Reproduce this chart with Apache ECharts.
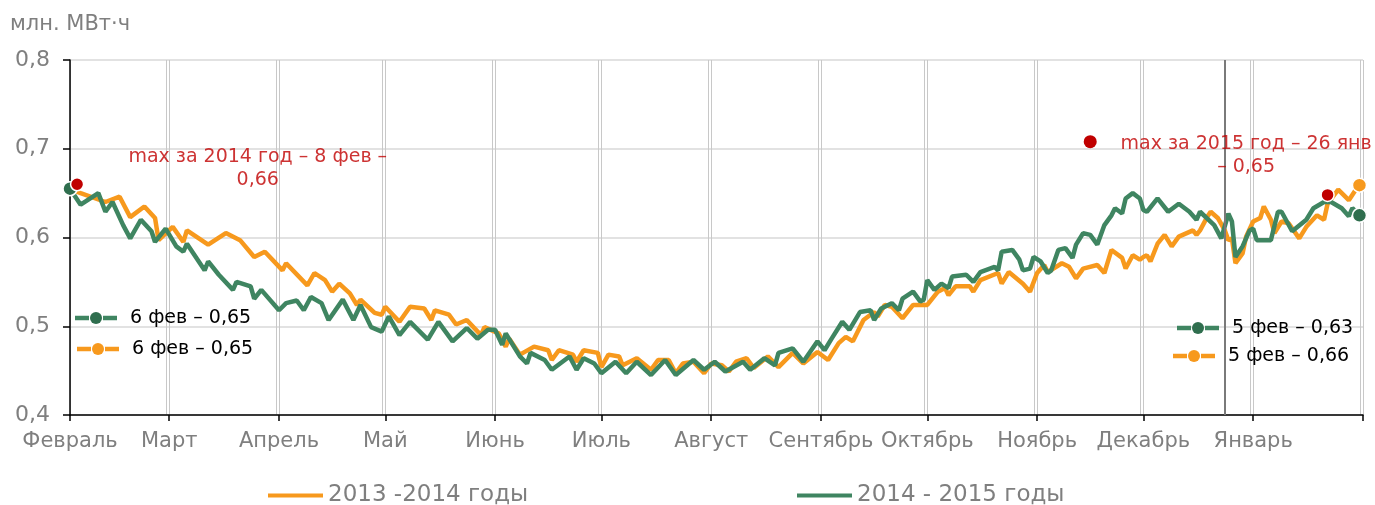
<!DOCTYPE html>
<html>
<head>
<meta charset="utf-8">
<script src="https://cdn.jsdelivr.net/npm/echarts@6/dist/echarts.min.js"></script>
<style>
    html, body { margin: 0; padding: 0; background: #fff; }
    #chart { width: 1375px; height: 505px; }
</style>
</head>
<body>
<div id="chart"></div>
<script>
const monthNames = ['Январь', 'Февраль', 'Март', 'Апрель', 'Май', 'Июнь', 'Июль', 'Август', 'Сентябрь', 'Октябрь', 'Ноябрь', 'Декабрь'];
const seriesNames = ['2013 -2014 годы', '2014 - 2015 годы'];

// дни от начала периода и значения, млн. МВт·ч
const days1314 = [0, 3, 10, 14, 17, 21, 24, 25, 29, 32, 33, 39, 44, 48, 52, 55, 60, 61, 67, 69, 72, 74, 76, 79, 81, 82, 86, 88, 89, 93, 96, 100, 102, 103, 107, 109, 112, 116, 117, 121, 123, 124, 127, 131, 135, 136, 138, 142, 143, 145, 149, 150, 152, 155, 156, 160, 164, 166, 169, 171, 173, 176, 179, 181, 184, 186, 188, 191, 193, 197, 200, 204, 207, 211, 214, 217, 219, 221, 224, 227, 228, 230, 232, 235, 238, 242, 245, 247, 248, 250, 254, 255, 257, 262, 263, 265, 269, 271, 273, 275, 276, 280, 282, 284, 286, 290, 292, 294, 297, 298, 300, 302, 303, 304, 305, 307, 309, 311, 313, 317, 318, 319, 321, 322, 324, 326, 327, 328, 329, 331, 332, 334, 336, 337, 339, 340, 342, 344, 347, 349, 352, 354, 355, 358, 360, 361, 363, 364];
const vals1314 = [0.655, 0.650, 0.640, 0.646, 0.623, 0.635, 0.622, 0.597, 0.612, 0.595, 0.608, 0.592, 0.605, 0.597, 0.578, 0.584, 0.563, 0.571, 0.546, 0.560, 0.552, 0.539, 0.548, 0.537, 0.524, 0.530, 0.515, 0.513, 0.522, 0.505, 0.522, 0.520, 0.507, 0.518, 0.513, 0.502, 0.507, 0.490, 0.499, 0.492, 0.477, 0.486, 0.468, 0.477, 0.473, 0.462, 0.473, 0.468, 0.460, 0.473, 0.470, 0.454, 0.468, 0.466, 0.456, 0.464, 0.451, 0.462, 0.462, 0.447, 0.458, 0.460, 0.447, 0.458, 0.456, 0.449, 0.460, 0.464, 0.453, 0.466, 0.454, 0.470, 0.458, 0.471, 0.462, 0.481, 0.488, 0.483, 0.507, 0.516, 0.511, 0.524, 0.522, 0.509, 0.524, 0.524, 0.539, 0.543, 0.535, 0.545, 0.545, 0.539, 0.552, 0.560, 0.548, 0.561, 0.548, 0.539, 0.560, 0.569, 0.561, 0.571, 0.567, 0.554, 0.565, 0.569, 0.560, 0.586, 0.577, 0.565, 0.580, 0.575, 0.578, 0.580, 0.573, 0.593, 0.603, 0.590, 0.601, 0.608, 0.603, 0.608, 0.623, 0.629, 0.622, 0.608, 0.597, 0.599, 0.571, 0.582, 0.601, 0.618, 0.622, 0.635, 0.620, 0.605, 0.618, 0.616, 0.599, 0.612, 0.625, 0.620, 0.638, 0.654, 0.646, 0.642, 0.654, 0.659];

const days1415 = [0, 3, 8, 10, 12, 15, 17, 20, 23, 24, 27, 30, 32, 33, 38, 39, 42, 46, 47, 51, 52, 54, 59, 61, 64, 66, 68, 71, 73, 77, 80, 82, 85, 88, 90, 93, 96, 101, 104, 108, 112, 115, 118, 120, 122, 123, 127, 129, 130, 134, 136, 141, 143, 145, 148, 150, 154, 157, 160, 164, 168, 171, 176, 179, 182, 185, 190, 192, 196, 199, 200, 204, 207, 211, 213, 215, 218, 220, 223, 226, 227, 229, 232, 234, 235, 238, 240, 241, 242, 244, 246, 248, 249, 253, 255, 257, 261, 262, 263, 266, 268, 269, 271, 272, 274, 276, 277, 279, 281, 283, 284, 286, 288, 290, 292, 294, 295, 297, 298, 300, 302, 303, 304, 307, 310, 313, 316, 318, 319, 323, 325, 327, 328, 329, 331, 333, 334, 335, 339, 341, 342, 345, 349, 351, 354, 356, 359, 361, 362, 364];
const vals1415 = [0.655, 0.637, 0.650, 0.629, 0.640, 0.614, 0.599, 0.620, 0.607, 0.595, 0.610, 0.590, 0.584, 0.593, 0.563, 0.573, 0.558, 0.541, 0.550, 0.545, 0.531, 0.541, 0.518, 0.526, 0.529, 0.518, 0.533, 0.526, 0.507, 0.530, 0.507, 0.524, 0.499, 0.494, 0.511, 0.490, 0.505, 0.485, 0.505, 0.483, 0.498, 0.486, 0.496, 0.496, 0.479, 0.492, 0.466, 0.458, 0.470, 0.462, 0.451, 0.466, 0.451, 0.464, 0.458, 0.447, 0.460, 0.447, 0.460, 0.445, 0.462, 0.445, 0.462, 0.451, 0.460, 0.449, 0.460, 0.451, 0.464, 0.456, 0.470, 0.475, 0.460, 0.483, 0.473, 0.486, 0.505, 0.496, 0.516, 0.518, 0.507, 0.520, 0.526, 0.518, 0.531, 0.539, 0.528, 0.530, 0.552, 0.541, 0.548, 0.543, 0.556, 0.558, 0.550, 0.561, 0.567, 0.563, 0.584, 0.586, 0.575, 0.563, 0.565, 0.578, 0.573, 0.560, 0.563, 0.586, 0.588, 0.577, 0.592, 0.605, 0.603, 0.592, 0.614, 0.625, 0.633, 0.627, 0.644, 0.650, 0.644, 0.631, 0.629, 0.644, 0.629, 0.638, 0.629, 0.620, 0.629, 0.614, 0.599, 0.627, 0.618, 0.578, 0.590, 0.608, 0.610, 0.597, 0.597, 0.629, 0.629, 0.607, 0.620, 0.633, 0.640, 0.640, 0.633, 0.624, 0.633, 0.625];

// максимумы (красные точки)
const maxDays = [2, 355];
const maxVals = [0.66, 0.648];

// подписи
const noteTexts = ['max за 2014 год – 8 фев –\n0,66', 'max за 2015 год – 26 янв\n– 0,65'];
const noteDays = [53, 332];
const noteVals = [0.678, 0.692];
const noteKeyDay = 288;
const noteKeyVal = 0.708;
const keyTexts = ['6 фев – 0,65', '6 фев – 0,65', '5 фев – 0,63', '5 фев – 0,66'];
const markDay = 326;

const DAY = 86400000;
const start = new Date(2014, 1, 1).getTime();
const end = new Date(2015, 1, 1).getTime();
const t = d => start + d * DAY;

const orange = '#f7991d';
const green = '#3f8561';
const greenDot = '#2f6e4e';
const red = '#c00000';
const gray = '#7f7f7f';
const font = "'DejaVu Sans', Verdana, sans-serif";

// ключ подписи: штрих – точка – штрих и текст
function key(x, y, lineColor, dotColor, text) {
    return {
        type: 'group',
        children: [
            { type: 'line', z: 100, shape: { x1: x, y1: y, x2: x + 14, y2: y }, style: { stroke: lineColor, lineWidth: 4.5 } },
            { type: 'circle', z: 101, shape: { cx: x + 21, cy: y, r: 6 }, style: { fill: dotColor } },
            { type: 'line', z: 100, shape: { x1: x + 28, y1: y, x2: x + 42, y2: y }, style: { stroke: lineColor, lineWidth: 4.5 } },
            { type: 'text', z: 100, x: x + 55, y: y, style: { text: text, fill: '#000', font: '19px ' + font, textVerticalAlign: 'middle' } }
        ]
    };
}

const chart = echarts.init(document.getElementById('chart'));

const xLabel = v => (v >= end ? '' : monthNames[new Date(v).getMonth()]);

const legendText = { fontFamily: font, fontSize: 23, color: gray };

chart.setOption({
    animation: false,
    title: {
        text: 'млн. МВт·ч',
        left: 10,
        top: 14,
        padding: 0,
        textStyle: { fontFamily: font, fontSize: 21, fontWeight: 'normal', color: gray }
    },
    grid: { left: 70, right: 12, top: 60, bottom: 90 },
    legend: [
        {
            data: [seriesNames[0]], left: 268, top: 484, padding: 0, icon: 'rect',
            itemWidth: 55, itemHeight: 4, itemStyle: { color: orange }, textStyle: legendText
        },
        {
            data: [seriesNames[1]], left: 797, top: 484, padding: 0, icon: 'rect',
            itemWidth: 55, itemHeight: 4, itemStyle: { color: green }, textStyle: legendText
        }
    ],
    xAxis: [
        {
            type: 'time',
            min: start,
            max: end,
            splitNumber: 12,
            minInterval: 28 * DAY,
            maxInterval: 31 * DAY,
            axisLine: { lineStyle: { color: '#000', width: 1.5 } },
            axisTick: { show: true, length: 6, lineStyle: { color: '#000', width: 1.5 } },
            axisLabel: {
                formatter: xLabel, fontFamily: font, fontSize: 21, color: gray,
                margin: 16, hideOverlap: false, showMaxLabel: false
            },
            splitLine: { show: true, lineStyle: { color: '#c8c8c8', width: 1 } }
        },
        {
            // второй ряд сетки, чуть левее
            type: 'time',
            min: start + 0.85 * DAY,
            max: end + 0.85 * DAY,
            splitNumber: 12,
            minInterval: 28 * DAY,
            maxInterval: 31 * DAY,
            axisLine: { show: false },
            axisTick: { show: false },
            axisLabel: { show: false },
            splitLine: { show: true, lineStyle: { color: '#c8c8c8', width: 1 } }
        }
    ],
    yAxis: {
        type: 'value',
        min: 0.4,
        max: 0.8,
        interval: 0.1,
        axisLine: { show: true, lineStyle: { color: '#000', width: 1.5 } },
        axisTick: { show: true, length: 7, lineStyle: { color: '#000', width: 1.5 } },
        axisLabel: {
            formatter: v => v.toFixed(1).replace('.', ','),
            fontFamily: font, fontSize: 22, color: gray, margin: 20
        },
        splitLine: { lineStyle: { color: '#d9d9d9', width: 1.5 } }
    },
    graphic: [
        key(75, 318, green, greenDot, keyTexts[0]),
        key(77, 349, orange, orange, keyTexts[1]),
        key(1177, 328, green, greenDot, keyTexts[2]),
        key(1173, 356, orange, orange, keyTexts[3])
    ],
    series: [
        {
            name: seriesNames[0],
            type: 'line',
            symbol: 'none',
            lineStyle: { color: orange, width: 4.5 },
            itemStyle: { color: orange },
            data: days1314.map((d, i) => [t(d), vals1314[i]]),
            markLine: {
                silent: true,
                symbol: 'none',
                label: { show: false },
                lineStyle: { color: '#7a7a7a', width: 2, type: 'solid' },
                data: [{ xAxis: t(markDay) }]
            },
            z: 3
        },
        {
            name: seriesNames[1],
            type: 'line',
            symbol: 'none',
            lineStyle: { color: green, width: 4.5 },
            itemStyle: { color: green },
            data: days1415.map((d, i) => [t(d), vals1415[i]]),
            z: 4
        },
        {
            type: 'scatter',
            symbolSize: 14,
            itemStyle: { borderColor: '#fff', borderWidth: 1.5, opacity: 1 },
            data: [
                { value: [t(days1415[0]), vals1415[0]], itemStyle: { color: greenDot } },
                { value: [t(days1415[days1415.length - 1]), vals1415[vals1415.length - 1]], itemStyle: { color: greenDot } },
                { value: [t(days1314[days1314.length - 1]), vals1314[vals1314.length - 1]], itemStyle: { color: orange } }
            ],
            z: 5
        },
        {
            type: 'scatter',
            symbolSize: 13,
            itemStyle: { color: red, borderColor: '#fff', borderWidth: 1.5, opacity: 1 },
            data: maxDays.map((d, i) => [t(d), maxVals[i]]).concat([{ value: [t(noteKeyDay), noteKeyVal], itemStyle: { borderWidth: 0 } }]),
            z: 6
        },
        {
            type: 'scatter',
            symbolSize: 0,
            silent: true,
            label: {
                show: true,
                position: 'inside',
                align: 'center',
                verticalAlign: 'middle',
                formatter: p => noteTexts[p.dataIndex],
                fontFamily: font,
                fontSize: 19,
                lineHeight: 23,
                color: red
            },
            data: noteDays.map((d, i) => [t(d), noteVals[i]]),
            z: 7
        }
    ]
});
</script>
</body>
</html>
